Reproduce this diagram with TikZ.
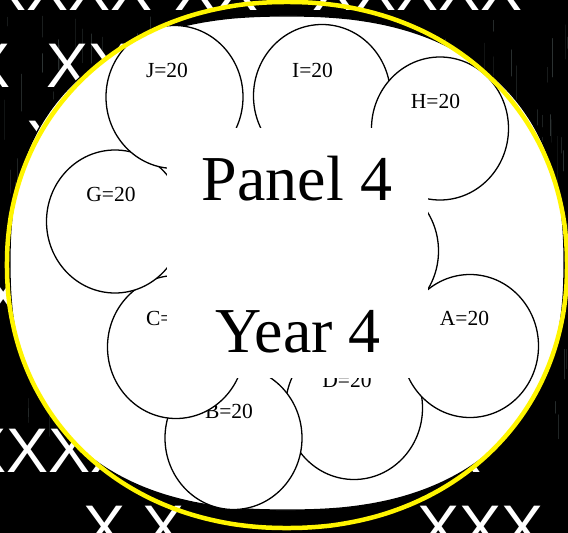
\documentclass[tikz,border=0pt]{standalone}
\usepackage{fontspec}
\setmainfont{Liberation Serif}
\newfontfamily\xfont{Liberation Sans}
\usepackage{tikz}
\usetikzlibrary{shapes.geometric}

\definecolor{chalk}{RGB}{70,80,80}
\definecolor{rimyellow}{RGB}{255,245,0}

\begin{document}
\begin{tikzpicture}[x=1pt, y=-1pt,
        xrow/.style={text=white, font=\xfont\fontsize{63}{63}\selectfont, inner sep=0pt, anchor=base west},
        bubble/.style={ellipse, draw=black, line width=1.3pt, fill=white, minimum width=137pt, minimum height=143pt, inner sep=0pt},
        tag/.style={font=\fontsize{21.5}{22}\selectfont, inner sep=0pt, anchor=base},
        big/.style={font=\fontsize{64}{64}\selectfont, inner sep=0pt, anchor=base},
        streak/.style={draw=chalk, line cap=round}
    ]

    \useasboundingbox (0,0) rectangle (568,533);
    \clip (0,0) rectangle (568,533);

    % Board
    \fill[black] (0,0) rectangle (568,533);
    \pgfmathsetseed{42}
    \foreach \s in {1,...,320}{
        \pgfmathsetmacro{\sx}{rnd*568}
        \pgfmathsetmacro{\sy}{15+rnd*400}
        \pgfmathsetmacro{\sl}{6+rnd*40}
        \pgfmathsetmacro{\sw}{0.3+rnd*0.8}
        \pgfmathsetmacro{\so}{0.2+rnd*0.45}
        \draw[streak, line width=\sw pt, opacity=\so] (\sx,\sy) -- ++(0,\sl);
    }

    % Rows of X
    \node[xrow] (r1a) at (-16,10) {XXXX};
    \node[xrow] (r1b) at (174,10) {XX};
    \node[xrow] (r1c) at (312,10) {XXXXX};
    \node[xrow] (r2a) at (-32,87) {X};
    \node[xrow] (r2b) at (46,87) {XX};
    \node[xrow] (r2c) at (403,87) {X};
    \node[xrow] (r3a) at (26,164) {X};
    \node[xrow] (r5a) at (-18,318) {X};
    \node[xrow] (r7a) at (-36,472) {XXXX};
    \node[xrow] (r7b) at (439,472) {X};
    \node[xrow] (r8a) at (83,549) {X X};
    \node[xrow] (r8b) at (417,549) {XXX};

    % White disc
    \draw[line width=1.3pt, fill=white] plot[smooth cycle, domain=1:358, samples=120, variable=\t]
        ({287+277*sign(cos(\t))*abs(cos(\t))^(0.8333)}, {263+247*sign(sin(\t))*abs(sin(\t))^(0.8333)});

    % Bubbles
    \node[bubble] (D) at (354,408) {};
    \node[tag] (Dl) at (347,387) {D=20};
    \node[bubble] (B) at (233.5,438) {};
    \node[tag] (Bl) at (229,418) {B=20};
    \node[bubble] (C) at (176,347) {};
    \node[tag] (Cl) at (170,325) {C=20};
    \node[bubble] (G) at (115,221.5) {};
    \node[tag] (Gl) at (111,201) {G=20};
    \node[bubble] (J) at (174.5,97) {};
    \node[tag] (Jl) at (167,77) {J=20};
    \node[bubble] (I) at (322,96) {};
    \node[tag] (Il) at (312.5,77) {I=20};
    \node[bubble] (H) at (440,128.5) {};
    \node[tag] (Hl) at (435.5,108) {H=20};
    \node[bubble] (E) at (370,251) {};
    \node[bubble] (A) at (470,346) {};
    \node[tag] (Al) at (464.5,325) {A=20};

    % Panel box
    \node[fill=white, minimum width=261pt, minimum height=250pt, inner sep=0pt] (panel) at (297.5,253) {};
    \node[big] (ttl) at (297,200) {Panel 4};
    \node[big] (yr) at (298,352) {Year 4};

    % Yellow rim
    \draw[rimyellow, line width=4.5pt] plot[smooth cycle, domain=1:358, samples=120, variable=\t]
        ({287+280*sign(cos(\t))*abs(cos(\t))^(0.9524)}, {265+263*sign(sin(\t))*abs(sin(\t))^(0.9524)});

\end{tikzpicture}
\end{document}
